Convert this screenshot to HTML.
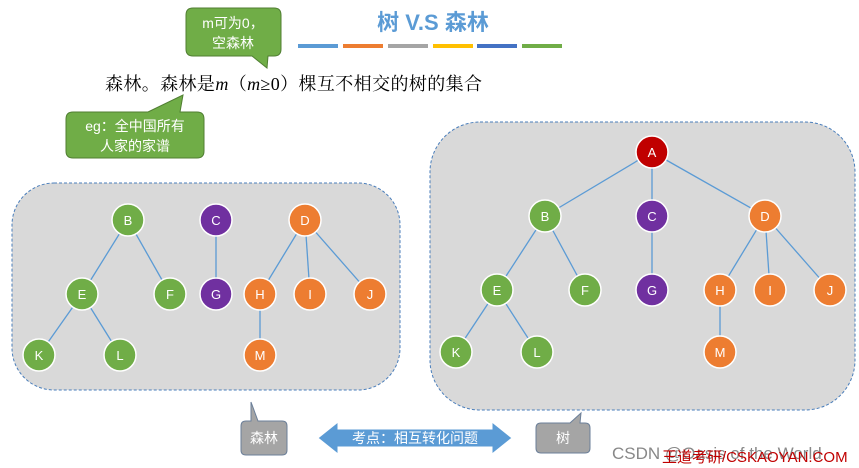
<!DOCTYPE html>
<html><head><meta charset="utf-8"><style>
html,body{margin:0;padding:0;background:#fff;}
svg{display:block;}
text{font-family:"Liberation Sans","Noto Sans CJK SC",sans-serif;}
</style></head><body>
<svg width="859" height="468" viewBox="0 0 859 468" xmlns="http://www.w3.org/2000/svg">
<text x="433" y="30" font-size="22" font-weight="bold" fill="#5b9bd5" text-anchor="middle">树 V.S 森林</text>
<rect x="298" y="44" width="40" height="4" fill="#5b9bd5"/>
<rect x="343" y="44" width="40" height="4" fill="#ed7d31"/>
<rect x="388" y="44" width="40" height="4" fill="#a5a5a5"/>
<rect x="433" y="44" width="40" height="4" fill="#ffc000"/>
<rect x="477" y="44" width="40" height="4" fill="#4472c4"/>
<rect x="522" y="44" width="40" height="4" fill="#70ad47"/>
<text x="105" y="90" font-size="18" fill="#000" textLength="377" lengthAdjust="spacing" style="font-family:'Liberation Serif','Noto Serif CJK SC',serif">森林。森林是<tspan font-style="italic">m</tspan>（<tspan font-style="italic">m</tspan>≥0）棵互不相交的树的集合</text>
<path d="M193 8 H274 Q281 8 281 15 V49 Q281 56 274 56 H268 L267 68 L252 56 H193 Q186 56 186 49 V15 Q186 8 193 8 Z" fill="#70ad47" stroke="#507e32"/>
<text x="233" y="28" font-size="14" fill="#fff" text-anchor="middle">m可为0，</text>
<text x="233" y="48" font-size="14" fill="#fff" text-anchor="middle">空森林</text>
<path d="M73 112 H148 L183 95 L180 112 H197 Q204 112 204 119 V151 Q204 158 197 158 H73 Q66 158 66 151 V119 Q66 112 73 112 Z" fill="#70ad47" stroke="#507e32"/>
<text x="135" y="131" font-size="14" fill="#fff" text-anchor="middle">eg：全中国所有</text>
<text x="135" y="151" font-size="14" fill="#fff" text-anchor="middle">人家的家谱</text>
<rect x="12" y="183" width="388" height="207" rx="42" fill="#d9d9d9" stroke="#4a7ebb" stroke-dasharray="3,2"/>
<rect x="430" y="122" width="425" height="288" rx="50" fill="#d9d9d9" stroke="#4a7ebb" stroke-dasharray="3,2"/>
<g stroke="#5b9bd5" stroke-width="1.3">
<line x1="128" y1="220" x2="82" y2="294"/><line x1="128" y1="220" x2="170" y2="294"/>
<line x1="82" y1="294" x2="39" y2="355"/><line x1="82" y1="294" x2="120" y2="355"/>
<line x1="216" y1="220" x2="216" y2="294"/>
<line x1="305" y1="220" x2="260" y2="294"/><line x1="305" y1="220" x2="310" y2="294"/><line x1="305" y1="220" x2="370" y2="294"/>
<line x1="260" y1="294" x2="260" y2="355"/>
<line x1="652" y1="152" x2="545" y2="216"/><line x1="652" y1="152" x2="652" y2="216"/><line x1="652" y1="152" x2="765" y2="216"/>
<line x1="545" y1="216" x2="497" y2="290"/><line x1="545" y1="216" x2="585" y2="290"/>
<line x1="497" y1="290" x2="456" y2="352"/><line x1="497" y1="290" x2="537" y2="352"/>
<line x1="652" y1="216" x2="652" y2="290"/>
<line x1="765" y1="216" x2="720" y2="290"/><line x1="765" y1="216" x2="770" y2="290"/><line x1="765" y1="216" x2="830" y2="290"/>
<line x1="720" y1="290" x2="720" y2="352"/>
</g>
<g stroke="#fff" stroke-width="1.5">
<circle cx="128" cy="220" r="16" fill="#70ad47"/><circle cx="216" cy="220" r="16" fill="#7030a0"/><circle cx="305" cy="220" r="16" fill="#ed7d31"/>
<circle cx="82" cy="294" r="16" fill="#70ad47"/><circle cx="170" cy="294" r="16" fill="#70ad47"/><circle cx="216" cy="294" r="16" fill="#7030a0"/>
<circle cx="260" cy="294" r="16" fill="#ed7d31"/><circle cx="310" cy="294" r="16" fill="#ed7d31"/><circle cx="370" cy="294" r="16" fill="#ed7d31"/>
<circle cx="39" cy="355" r="16" fill="#70ad47"/><circle cx="120" cy="355" r="16" fill="#70ad47"/><circle cx="260" cy="355" r="16" fill="#ed7d31"/>
<circle cx="652" cy="152" r="16" fill="#c00000"/>
<circle cx="545" cy="216" r="16" fill="#70ad47"/><circle cx="652" cy="216" r="16" fill="#7030a0"/><circle cx="765" cy="216" r="16" fill="#ed7d31"/>
<circle cx="497" cy="290" r="16" fill="#70ad47"/><circle cx="585" cy="290" r="16" fill="#70ad47"/><circle cx="652" cy="290" r="16" fill="#7030a0"/>
<circle cx="720" cy="290" r="16" fill="#ed7d31"/><circle cx="770" cy="290" r="16" fill="#ed7d31"/><circle cx="830" cy="290" r="16" fill="#ed7d31"/>
<circle cx="456" cy="352" r="16" fill="#70ad47"/><circle cx="537" cy="352" r="16" fill="#70ad47"/><circle cx="720" cy="352" r="16" fill="#ed7d31"/>
</g>
<g fill="#fff" font-size="13" text-anchor="middle">
<text x="128" y="225">B</text><text x="216" y="225">C</text><text x="305" y="225">D</text>
<text x="82" y="299">E</text><text x="170" y="299">F</text><text x="216" y="299">G</text><text x="260" y="299">H</text><text x="310" y="299">I</text><text x="370" y="299">J</text>
<text x="39" y="360">K</text><text x="120" y="360">L</text><text x="260" y="360">M</text>
<text x="652" y="157">A</text><text x="545" y="221">B</text><text x="652" y="221">C</text><text x="765" y="221">D</text>
<text x="497" y="295">E</text><text x="585" y="295">F</text><text x="652" y="295">G</text><text x="720" y="295">H</text><text x="770" y="295">I</text><text x="830" y="295">J</text>
<text x="456" y="357">K</text><text x="537" y="357">L</text><text x="720" y="357">M</text>
</g>
<path d="M246 421 H251 L251 402 L258 421 H282 Q287 421 287 426 V450 Q287 455 282 455 H246 Q241 455 241 450 V426 Q241 421 246 421 Z" fill="#a5a5a5" stroke="#6b7f99"/>
<text x="264" y="443" font-size="14" fill="#fff" text-anchor="middle">森林</text>
<path d="M541 423 H570 L581 413 L580 423 H585 Q590 423 590 428 V448 Q590 453 585 453 H541 Q536 453 536 448 V428 Q536 423 541 423 Z" fill="#a5a5a5" stroke="#6b7f99"/>
<text x="563" y="443" font-size="14" fill="#fff" text-anchor="middle">树</text>
<path d="M318 438 L338 422 V429 H492 V422 L512 438 L492 454 V447 H338 V454 Z" fill="#5b9bd5" stroke="#fff" stroke-width="1"/>
<text x="415" y="443" font-size="14" fill="#fff" text-anchor="middle">考点：相互转化问题</text>
<text x="612" y="459" font-size="17" fill="#888">CSDN @Oasis of the World</text>
<text x="662" y="462" font-size="15" fill="#c00000">王道考研/CSKAOYAN.COM</text>
</svg>
</body></html>
